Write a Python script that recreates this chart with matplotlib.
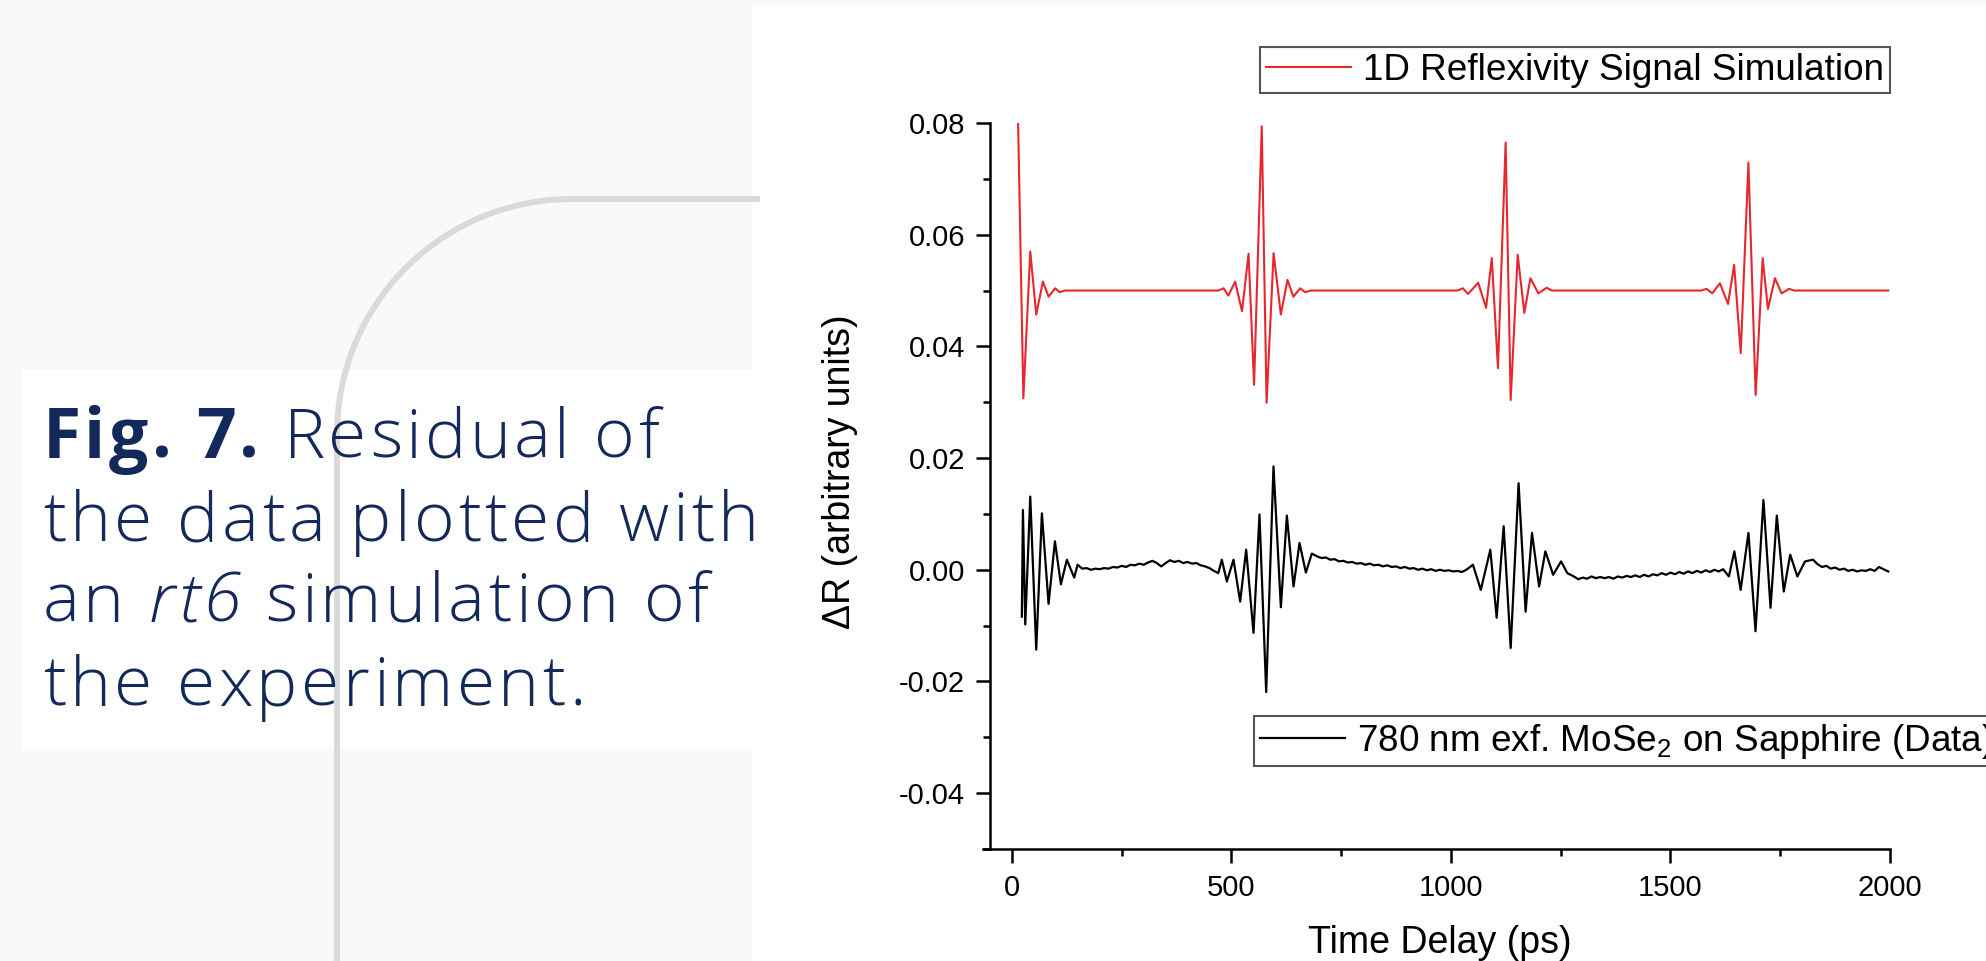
import numpy as np
import matplotlib
matplotlib.use('Agg')
import matplotlib.pyplot as plt
from matplotlib.patches import Rectangle
from matplotlib.ticker import MultipleLocator
from matplotlib.font_manager import findfont, FontProperties
from matplotlib.ft2font import FT2Font

# ---- data ----
# simulation (red), extrema of each wave packet plus baseline points
red_t = [14, 26, 41.7, 55.3, 70.5, 83.4, 98.6, 108.5, 121,
         470, 482, 493, 508.5, 524, 539, 551.5, 569, 580, 596, 612.5, 627.6, 641, 656.5, 668, 680,
         1015, 1027, 1039, 1062, 1080, 1093, 1107, 1124.5, 1136, 1152, 1167, 1181, 1199, 1218, 1230,
         1570, 1582, 1595, 1612.6, 1631, 1645, 1660, 1677.5, 1694, 1710, 1722, 1738, 1753, 1770, 1782,
         1996]
red_v = [0.0800, 0.0307, 0.0570, 0.0457, 0.0516, 0.0489, 0.0504, 0.0497, 0.0500,
         0.0500, 0.0504, 0.0491, 0.0516, 0.0463, 0.0566, 0.0331, 0.0794, 0.0299, 0.0567, 0.0457, 0.0519, 0.0489, 0.0504, 0.0497, 0.0500,
         0.0500, 0.0504, 0.0494, 0.0514, 0.0469, 0.0558, 0.0361, 0.0765, 0.0304, 0.0564, 0.0460, 0.0522, 0.0495, 0.0505, 0.0500,
         0.0500, 0.0503, 0.0495, 0.0513, 0.0476, 0.0546, 0.0388, 0.0729, 0.0313, 0.0558, 0.0467, 0.0522, 0.0495, 0.0503, 0.0500,
         0.0500]

# measured residual (black)
blk_t = [22.5, 25, 30.3, 41.7, 55.3, 68.2, 83.4, 97.9, 111.5, 125.1, 141.8, 149.5,
         160, 170, 180, 190, 200, 210, 220, 230, 240, 250, 260, 270, 280, 290, 300, 310,
         320, 330, 340, 350, 360, 370, 380, 390, 400, 410, 420, 430, 440, 450, 460, 470,
         478, 489.5, 504.6, 519.8, 533.5, 550.2, 563.8, 579.1, 595.7, 612.5, 626.2, 641.4, 655, 669.5, 683,
         695, 705, 715, 725, 735, 745, 755, 765, 775, 785, 795, 805, 815, 825, 835, 845, 855, 865,
         875, 885, 895, 905, 915, 925, 935, 945, 955, 965, 975, 985, 995, 1005, 1015, 1025, 1035,
         1050, 1068, 1089.6, 1104, 1120, 1136, 1154, 1170, 1184.6, 1200.7, 1215, 1232.7, 1250.8, 1265,
         1280, 1290, 1300, 1310, 1320, 1330, 1340, 1350, 1360, 1370, 1380, 1390, 1400, 1410, 1420,
         1430, 1440, 1450, 1460, 1470, 1480, 1490, 1500, 1510, 1520, 1530, 1540, 1550, 1560, 1570,
         1580, 1590, 1600, 1610, 1620,
         1633, 1645.5, 1659.8, 1677.6, 1693.7, 1711.7, 1727.9, 1742.2, 1758, 1772.7, 1789, 1806.5, 1824.7,
         1835, 1845, 1855, 1865, 1875, 1885, 1895, 1905, 1915, 1925, 1935, 1945, 1955, 1965, 1975, 1985, 1996]
blk_v = [-0.0084, 0.0107, -0.0098, 0.0131, -0.0143, 0.0101, -0.0061, 0.0051, -0.0026, 0.0018, -0.0014, 0.0009,
         0.0002, 0.0003, 0.0000, 0.0002, 0.0001, 0.0003, 0.0002, 0.0005, 0.0004, 0.0007, 0.0005, 0.0009, 0.0008, 0.0011, 0.0009, 0.0013,
         0.0016, 0.0012, 0.0006, 0.0012, 0.0017, 0.0014, 0.0016, 0.0012, 0.0014, 0.0011, 0.0012, 0.0008, 0.0006, 0.0003, -0.0002, -0.0006,
         0.0018, -0.0021, 0.0018, -0.0057, 0.0036, -0.0113, 0.0099, -0.0219, 0.0185, -0.0067, 0.0097, -0.0030, 0.0048, -0.0005, 0.0029,
         0.0024, 0.0021, 0.0022, 0.0018, 0.0019, 0.0015, 0.0016, 0.0013, 0.0014, 0.0011, 0.0012, 0.0009, 0.0011, 0.0008, 0.0009, 0.0006, 0.0008, 0.0005,
         0.0006, 0.0003, 0.0005, 0.0002, 0.0003, 0.0000, 0.0002, -0.0001, 0.0001, -0.0002, 0.0000, -0.0002, -0.0001, -0.0003, -0.0002, -0.0004, 0.0000,
         0.0009, -0.0036, 0.0036, -0.0086, 0.0078, -0.0140, 0.0155, -0.0075, 0.0066, -0.0030, 0.0033, -0.0009, 0.0015, -0.0006,
         -0.0012, -0.0017, -0.0014, -0.0016, -0.0012, -0.0015, -0.0013, -0.0015, -0.0013, -0.0016, -0.0012, -0.0014, -0.0011, -0.0013, -0.0010,
         -0.0013, -0.0009, -0.0012, -0.0008, -0.0010, -0.0006, -0.0009, -0.0005, -0.0008, -0.0004, -0.0007, -0.0003, -0.0006, -0.0002, -0.0005,
         -0.0001, -0.0004, 0.0000, -0.0003, 0.0001,
         -0.0012, 0.0033, -0.0036, 0.0066, -0.0110, 0.0125, -0.0068, 0.0097, -0.0039, 0.0027, -0.0012, 0.0015, 0.0018,
         0.0010, 0.0005, 0.0007, 0.0002, 0.0004, 0.0000, 0.0002, -0.0002, 0.0000, -0.0003, -0.0001, -0.0002, 0.0001, -0.0002, 0.0005, 0.0001, -0.0003]

x_ticks = [0, 500, 1000, 1500, 2000]
y_ticks = [-0.04, -0.02, 0.00, 0.02, 0.04, 0.06, 0.08]
y_ticklabels = ['-0.04', '-0.02', '0.00', '0.02', '0.04', '0.06', '0.08']

red_label = '1D Reflexivity Signal Simulation'
blk_label = '780 nm exf. MoSe$_2$ on Sapphire (Data)'

caption_lines = [[('Fig. 7.', 'bold', 'normal'), (' Residual of', 'light', 'normal')],
                 [('the data plotted with', 'light', 'normal')],
                 [('an ', 'light', 'normal'), ('rt6', 'light', 'italic'), (' simulation of', 'light', 'normal')],
                 [('the experiment.', 'light', 'normal')]]

W, H = 1986, 961
navy = '#14295b'
plt.rcParams['mathtext.fontset'] = 'custom'
plt.rcParams['mathtext.rm'] = 'Liberation Sans'
plt.rcParams['mathtext.it'] = 'Liberation Sans'

fig = plt.figure(figsize=(W / 100, H / 100), dpi=100)
fig.patch.set_facecolor('#f8f9fb')

# background decoration, pixel coordinates
bg = fig.add_axes([0, 0, 1, 1])
bg.set_xlim(0, W)
bg.set_ylim(H, 0)
bg.axis('off')
gray = '#dadada'
bg.plot([572, 760], [199, 199], color=gray, lw=4.3, solid_capstyle='butt')
th = np.linspace(np.pi / 2, np.pi, 80)
bg.plot(572 + 235 * np.cos(th), 434 - 235 * np.sin(th), color=gray, lw=4.3)
bg.plot([337, 337], [434, H], color=gray, lw=4.3, solid_capstyle='butt')
bg.add_patch(Rectangle((22, 370), 740, 379, facecolor='white', edgecolor='none'))
bg.add_patch(Rectangle((752, 5), W - 752, H - 5, facecolor='white', edgecolor='none'))

# caption text, laid out glyph by glyph to get the wide tracking of the original
cap_size = 50
fonts = {}


def advance(ch, wt, st):
    key = (wt, st)
    if key not in fonts:
        f = FT2Font(findfont(FontProperties(family='Open Sans', weight=wt, style=st)))
        f.set_size(cap_size, 100)
        fonts[key] = f
    g = fonts[key].load_char(ord(ch))
    return g.linearHoriAdvance / 65536.0


line2 = caption_lines[1][0][0]
natural = sum(advance(c, 'light', 'normal') for c in line2)
track = (716 - natural) / (len(line2) - 1)

baselines = [458, 541, 622, 706]
for line, yb in zip(caption_lines, baselines):
    x = 43
    for txt, wt, st in line:
        for c in txt:
            if c != ' ':
                fig.text(x / W, 1 - yb / H, c, fontsize=cap_size, family='Open Sans', weight=wt,
                         style=st, color=navy, va='baseline', ha='left')
            x += advance(c, wt, st) + track

# ---- chart ----
ax = fig.add_axes([990 / W, 1 - 849 / H, 900 / W, 726 / H])
ax.set_facecolor('none')
ax.plot(red_t, red_v, color='#e8262e', lw=1.5, label=red_label)
ax.plot(blk_t, blk_v, color='black', lw=1.6, label=blk_label)

ax.set_xlim(-50, 2000)
ax.set_ylim(-0.05, 0.08)
ax.set_xticks(x_ticks)
ax.set_yticks(y_ticks)
ax.set_yticklabels(y_ticklabels)
ax.xaxis.set_minor_locator(MultipleLocator(250))
ax.yaxis.set_minor_locator(MultipleLocator(0.01))
for s in ['top', 'right']:
    ax.spines[s].set_visible(False)
for s in ['left', 'bottom']:
    ax.spines[s].set_linewidth(1.8)
ax.spines['bottom'].set_bounds(-67, 2000)
ax.tick_params(which='major', direction='out', length=10, width=1.8, pad=8,
               labelsize=21, labelfontfamily='Liberation Sans')
ax.tick_params(which='minor', direction='out', length=5, width=1.8)

ax.set_xlabel('Time Delay (ps)', fontsize=27, family='Liberation Sans')
ax.set_ylabel('\u0394R (arbitrary units)', fontsize=27, family='Liberation Sans')
ax.xaxis.set_label_coords(0.5, -0.105)
ax.yaxis.set_label_coords(-0.147, 0.52)

h = ax.get_legend_handles_labels()[0]
leg_kw = dict(prop={'family': 'Liberation Sans', 'size': 26.6}, frameon=True, fancybox=False,
              framealpha=1, edgecolor='#555555', borderpad=0.15, handlelength=2.3,
              handletextpad=0.35, borderaxespad=0, loc='upper left',
              bbox_transform=fig.transFigure)
leg1 = ax.legend([h[0]], [red_label], bbox_to_anchor=(1260 / W, 1 - 47 / H), **leg_kw)
leg1.get_frame().set_linewidth(1.5)
ax.add_artist(leg1)
leg2 = ax.legend([h[1]], [blk_label], bbox_to_anchor=(1254 / W, 1 - 716 / H), **leg_kw)
leg2.get_frame().set_linewidth(1.5)

fig.savefig('out.png', dpi=100, facecolor=fig.get_facecolor())
